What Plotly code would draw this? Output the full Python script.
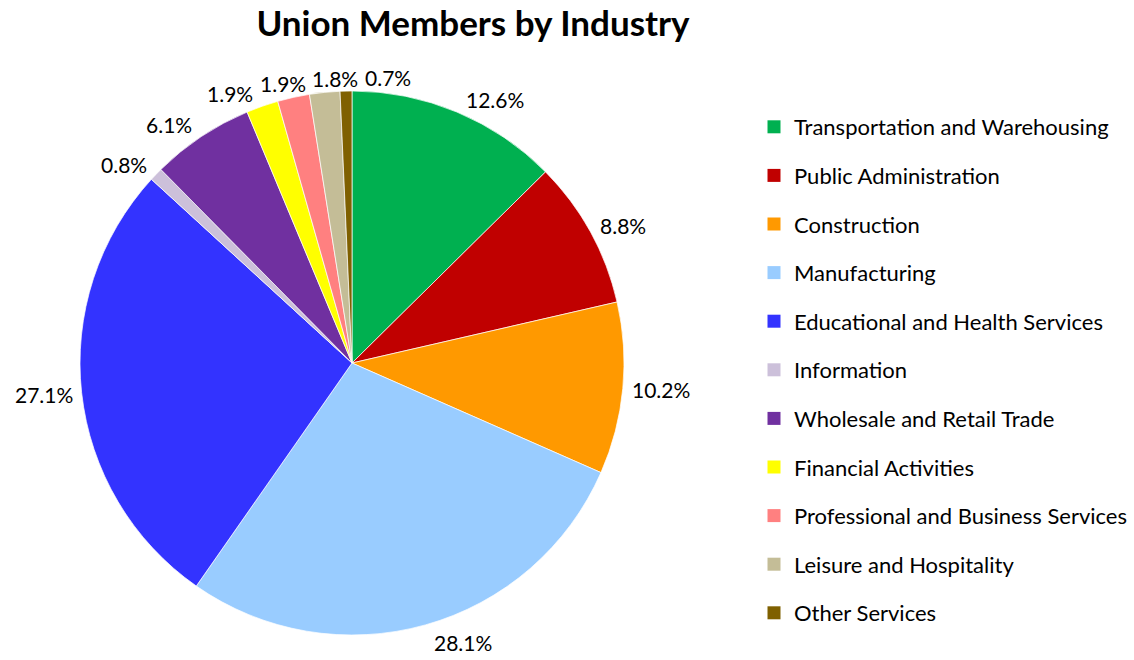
import math
import plotly.graph_objects as go

categories = [
    "Transportation and Warehousing",
    "Public Administration",
    "Construction",
    "Manufacturing",
    "Educational and Health Services",
    "Information",
    "Wholesale and Retail Trade",
    "Financial Activities",
    "Professional and Business Services",
    "Leisure and Hospitality",
    "Other Services",
]
values = [12.6, 8.8, 10.2, 28.1, 27.1, 0.8, 6.1, 1.9, 1.9, 1.8, 0.7]
colors = [
    "#00B050", "#C00000", "#FF9900", "#99CCFF", "#3333FF", "#CCC0DA",
    "#7030A0", "#FFFF00", "#FF8080", "#C4BD97", "#7F6000",
]

FONT = "Lato"
W, H = 1134, 660
CX, CY, R = 352, 363, 272          # pie centre / radius in pixels
LABEL_SIZE = 21

fig = go.Figure()
fig.add_trace(go.Pie(
    labels=categories,
    values=values,
    sort=False,
    direction="clockwise",
    rotation=0,
    marker=dict(colors=colors, line=dict(color="white", width=0.7)),
    textinfo="none",
    showlegend=False,
    hoverinfo="label+value",
    domain=dict(x=[(CX - R) / W, (CX + R) / W], y=[(H - CY - R) / H, (H - CY + R) / H]),
))

# outside labels positioned beside the slice mid-angle point on the rim
total = sum(values)
boxes = []
cum = 0.0
for v in values:
    mid = (cum + v / 2) / total * 2 * math.pi
    cum += v
    txt = f"{v:.1f}%"
    w = 11.2 * len(txt) + 2
    h = 22
    s, c = math.sin(mid), -math.cos(mid)
    px, py = CX + R * s, CY + R * c
    offx = (w / 2 + 9) * max(-1.0, min(1.0, s * 4))
    offy = c * 14 + (4 if c > 0.9 else 0)
    boxes.append([px + offx, py + offy, w, h, txt])

# simple horizontal de-overlap: later (clockwise) labels move away
for _ in range(200):
    moved = False
    for i in range(len(boxes)):
        for j in range(i + 1, len(boxes)):
            a, b = boxes[i], boxes[j]
            ox = (a[2] + b[2]) / 2 + 6 - abs(a[0] - b[0])
            oy = (a[3] + b[3]) / 2 - abs(a[1] - b[1])
            if ox > 0.01 and oy > 0:
                sgn = 1 if b[0] >= a[0] else -1
                b[0] += sgn * ox
                moved = True
    if not moved:
        break

for x, y, w, h, txt in boxes:
    fig.add_annotation(
        x=x / W, y=1 - y / H, xref="paper", yref="paper",
        text=txt, showarrow=False, xanchor="center", yanchor="middle",
        font=dict(size=LABEL_SIZE, color="black", family=FONT),
    )

for cat, col in zip(categories, colors):
    fig.add_trace(go.Scatter(
        x=[None], y=[None], mode="markers",
        marker=dict(symbol="square", size=13, color=col),
        name=cat, legendgroup=cat, showlegend=True,
    ))

fig.update_layout(
    width=W, height=H,
    margin=dict(l=0, r=0, t=0, b=0),
    paper_bgcolor="white", plot_bgcolor="white",
    title=dict(text="<b>Union Members by Industry</b>", x=473 / W, xanchor="center",
               y=1 - 24 / H, yanchor="middle",
               font=dict(size=35, color="black", family=FONT)),
    xaxis=dict(visible=False), yaxis=dict(visible=False),
    legend=dict(x=754 / W, xanchor="left", y=1 - 106 / H, yanchor="top",
                font=dict(size=22, color="black", family=FONT),
                traceorder="grouped", tracegroupgap=17, itemclick=False),
)

fig.write_html("out.html", config={"displayModeBar": False},
               post_script="document.body.style.margin='0';")
